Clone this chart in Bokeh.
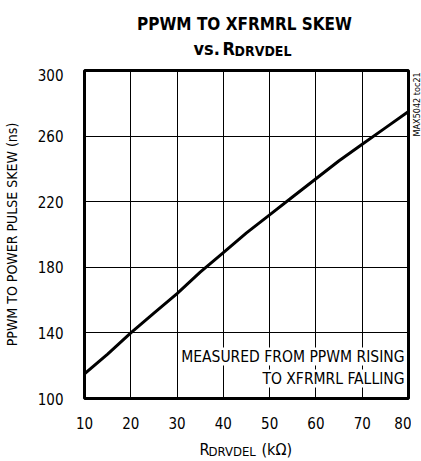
import math
from bokeh.plotting import figure
from bokeh.layouts import column, row
from bokeh.models import Range1d, FixedTicker, Label
from bokeh.core.properties import value
from bokeh.embed import file_html
from bokeh.resources import INLINE

# data
r_kohm = [10, 15, 20, 25, 30, 35, 40, 45, 50, 55, 60, 65, 70, 75, 80]
skew_ns = [115, 127, 140, 152, 164, 177, 189, 201, 212, 223, 234, 245, 255, 265, 275]
x_ticks = [10, 20, 30, 40, 50, 60, 70, 80]
y_ticks = [100, 140, 180, 220, 260, 300]

FONT = "DejaVu Sans Condensed"
W, H = 421, 461
TOP_H, BOT_H = 68, 25
MID_H = H - TOP_H - BOT_H
SIDE_W = 10


def blank(width, height, y_inverted=True):
    f = figure(width=width, height=height, output_backend="svg", toolbar_location=None,
               x_range=Range1d(0, width),
               y_range=Range1d(height, 0) if y_inverted else Range1d(0, height),
               min_border=0, x_axis_type=None, y_axis_type=None)
    f.title.visible = False
    f.outline_line_color = None
    f.xgrid.visible = False
    f.ygrid.visible = False
    return f


def put(f, x, y, text, size, bold=False, align="left", base="alphabetic", angle=0):
    f.text(x=[x], y=[y], text=[text], text_font=value(FONT), text_font_size=size,
           text_font_style="bold" if bold else "normal", text_align=align,
           text_baseline=base, angle=angle, text_color="black")


# ---- title strip ----
top = blank(W, TOP_H)
put(top, 244, 23, "PPWM TO XFRMRL SKEW", "17px", bold=True, align="center")
put(top, 193, 48, "vs.", "18px", bold=True)
put(top, 222, 48, "R", "18px", bold=True)
put(top, 234, 50, "DRVDEL", "14px", bold=True)

# ---- main plot ----
p = figure(width=W - SIDE_W, height=MID_H, output_backend="svg", toolbar_location=None,
           x_range=Range1d(10, 80), y_range=Range1d(100, 300),
           min_border_left=80, min_border_right=W - SIDE_W - 408,
           min_border_top=2, min_border_bottom=MID_H - (398 - TOP_H))
p.title.visible = False

p.line(r_kohm, skew_ns, line_color="black", line_width=3)

p.outline_line_color = "black"
p.outline_line_width = 3
p.outline_line_alpha = 1

for ax in (p.xaxis, p.yaxis):
    ax.axis_line_color = None
    ax.major_tick_line_color = None
    ax.minor_tick_line_color = None
    ax.major_label_text_font = FONT
    ax.major_label_text_font_size = "15px"
    ax.major_label_text_color = "black"
p.yaxis.major_label_standoff = 15
p.xaxis.major_label_standoff = 12

p.xaxis.ticker = FixedTicker(ticks=x_ticks)
p.yaxis.ticker = FixedTicker(ticks=y_ticks)
p.xgrid.ticker = FixedTicker(ticks=x_ticks)
p.ygrid.ticker = FixedTicker(ticks=y_ticks)
for g in (p.xgrid, p.ygrid):
    g.grid_line_color = "black"
    g.grid_line_width = 1
    g.grid_line_alpha = 1

p.yaxis.axis_label = "PPWM TO POWER PULSE SKEW (ns)"
p.yaxis.axis_label_text_font = FONT
p.yaxis.axis_label_text_font_style = "normal"
p.yaxis.axis_label_text_font_size = "14px"
p.yaxis.axis_label_text_color = "black"
p.yaxis.axis_label_standoff = 15

for txt, yy in (("MEASURED FROM PPWM RISING", 33), ("TO XFRMRL FALLING", 11)):
    p.add_layout(Label(x=320, y=yy, x_units="screen", y_units="screen", text=txt,
                       text_font=FONT, text_font_size="15.5px", text_align="right",
                       text_color="black", background_fill_color="white"))

# ---- side id strip ----
side = blank(SIDE_W, MID_H, y_inverted=False)
put(side, 5.5, MID_H - 2, "MAX5042 toc21", "9px", align="right", base="middle", angle=math.pi / 2)

# ---- x-axis label strip ----
bot = blank(W, BOT_H)
put(bot, 199, 449 - (H - BOT_H), "R", "16px")
put(bot, 208, 451 - (H - BOT_H), "DRVDEL", "13px")
put(bot, 261, 449 - (H - BOT_H), "(k\u03a9)", "16px")

layout = column(top, row(p, side), bot)
open("out.html", "w").write(file_html(layout, INLINE))
